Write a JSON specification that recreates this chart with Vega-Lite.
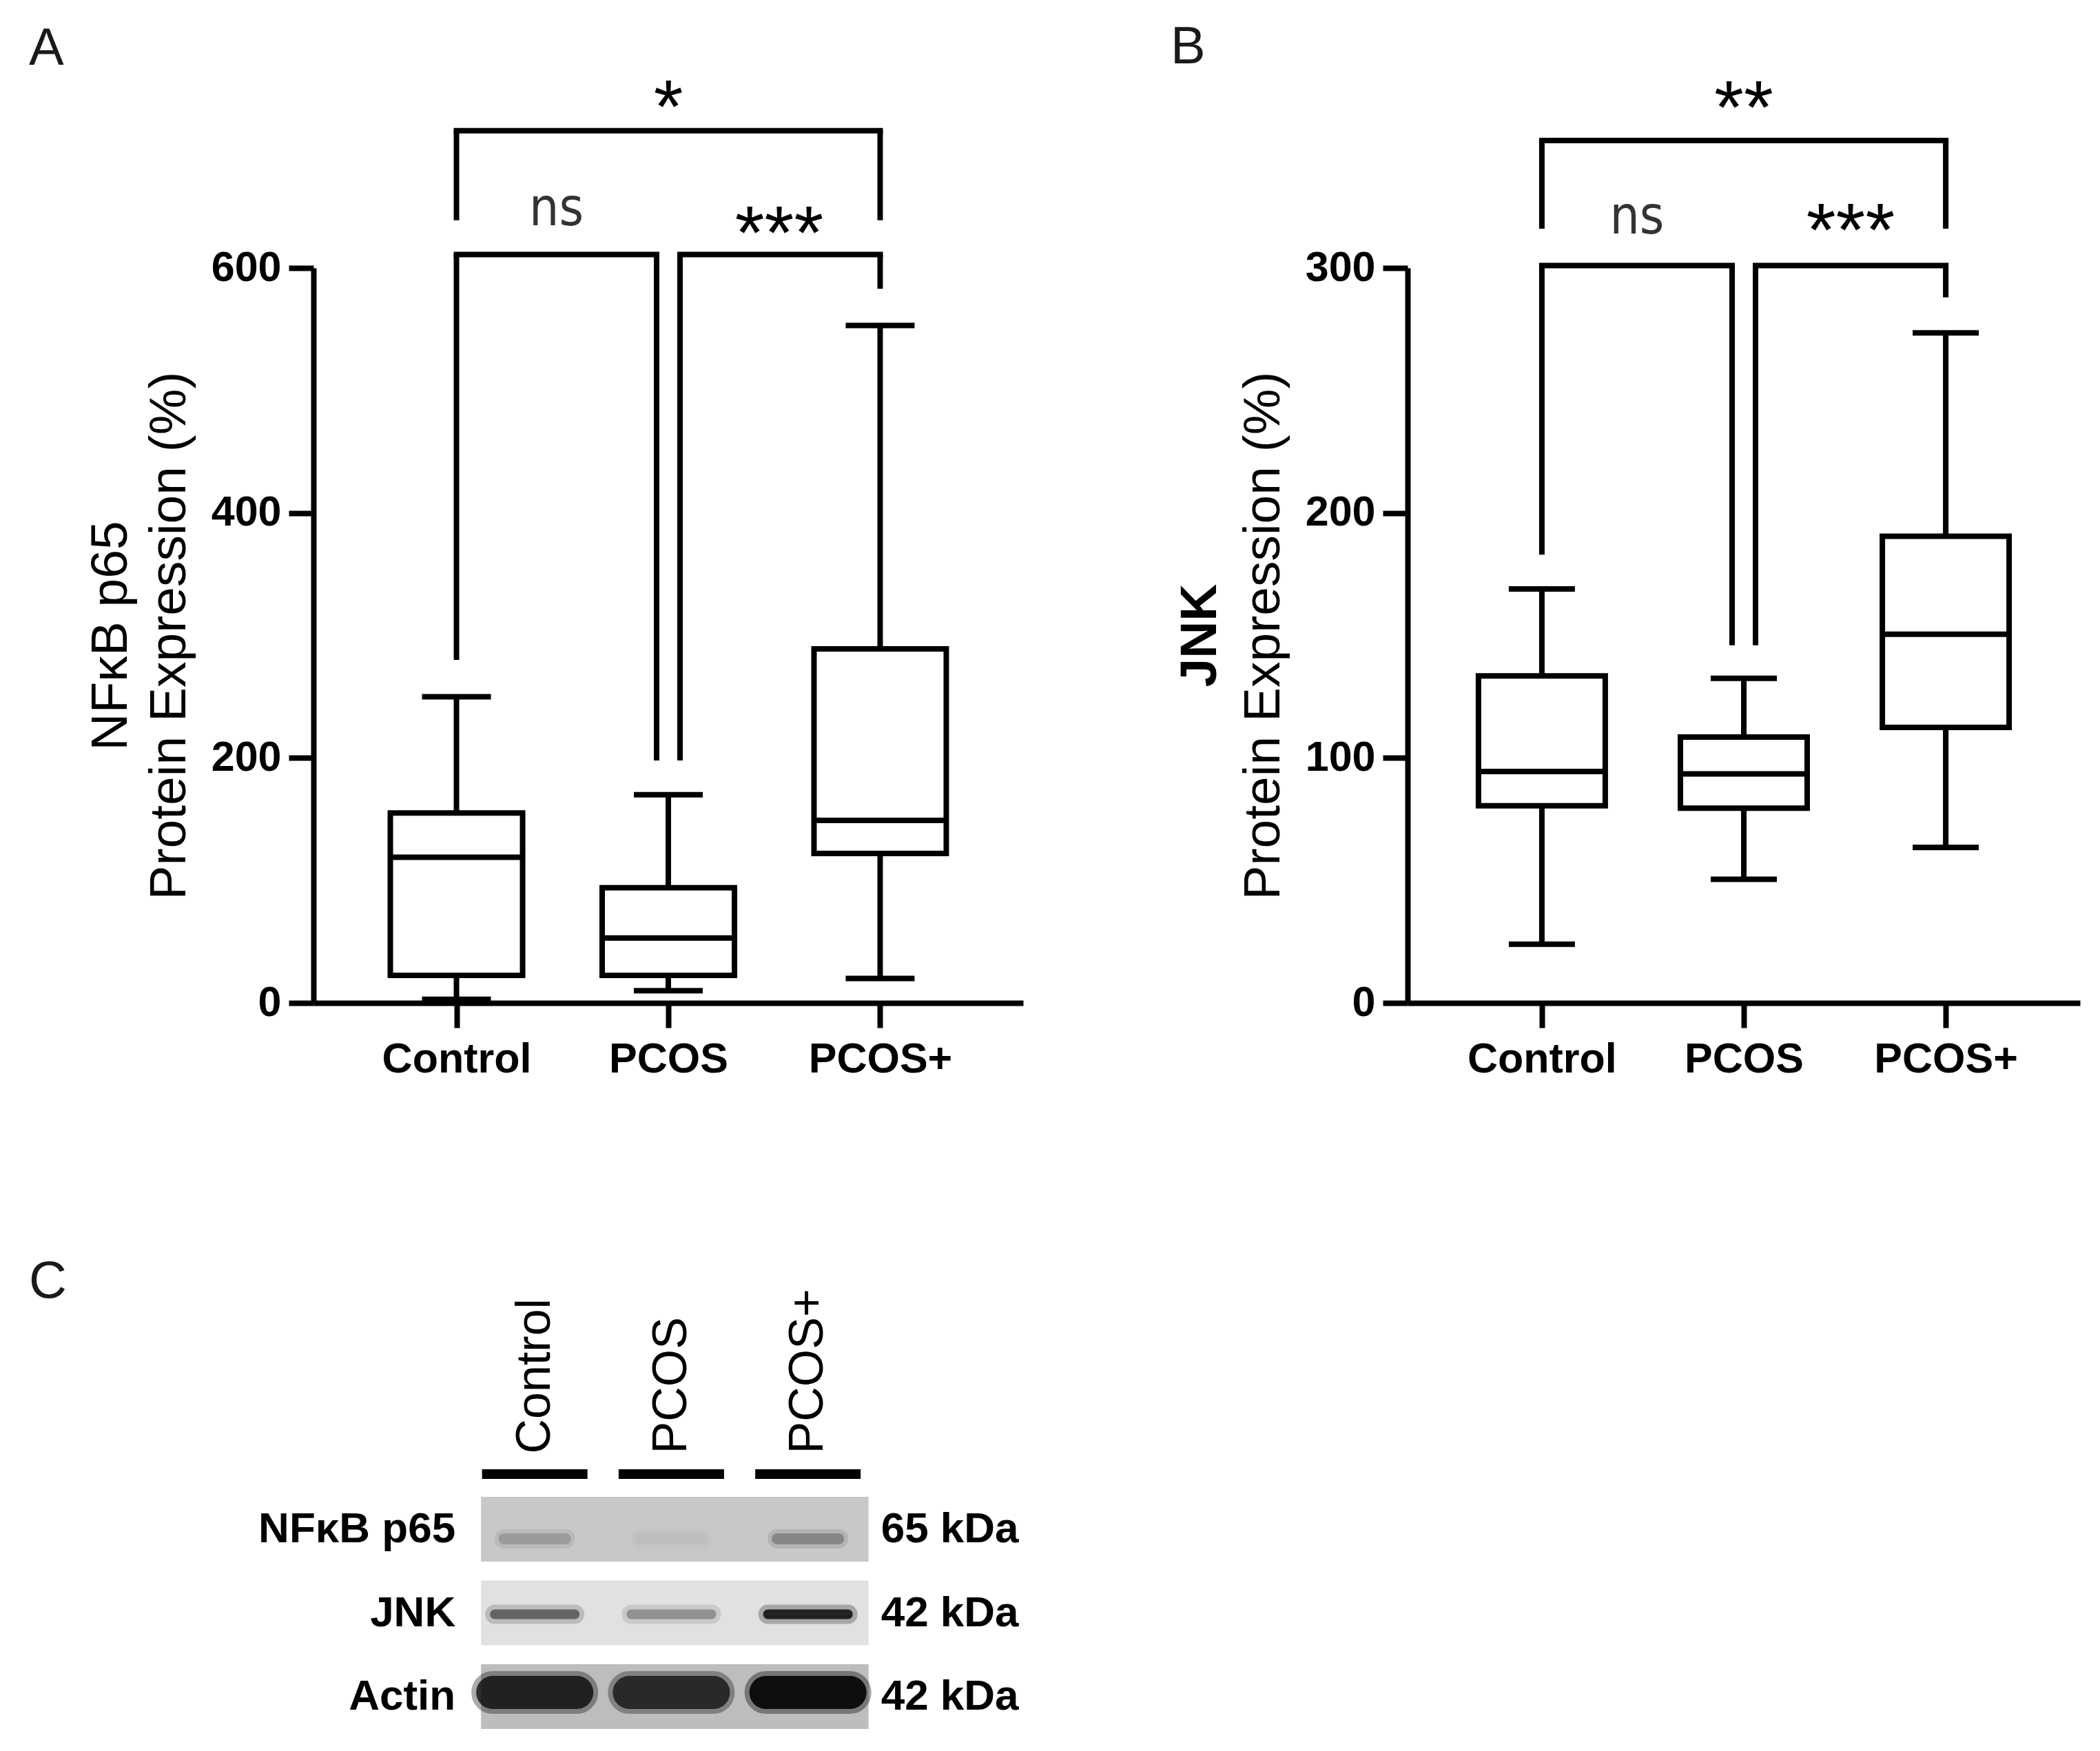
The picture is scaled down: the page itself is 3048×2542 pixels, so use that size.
{
  "$schema": "https://vega.github.io/schema/vega-lite/v6.json",
  "background": "white",
  "padding": {"left": 42, "top": 31, "right": 10, "bottom": 10},
  "config": {
    "view": {"stroke": null},
    "font": "Liberation Sans",
    "axis": {"domainColor": "black", "tickColor": "black", "labelColor": "black", "titleColor": "black", "labelFont": "Liberation Sans", "titleFont": "Liberation Sans", "grid": false, "domainWidth": 8, "tickWidth": 8, "tickSize": 36, "labelFontSize": 61, "labelFontWeight": "bold", "titleFontSize": 75, "titleFontWeight": "normal", "labelLimit": 0},
    "axisX": {"labelAngle": 0, "labelPadding": 16},
    "axisY": {"labelPadding": 11},
    "title": {"font": "Liberation Sans", "fontSize": 76, "fontWeight": "normal", "color": "#1a1a1a", "anchor": "start", "frame": "group", "baseline": "alphabetic"}
  },
  "datasets": {
    "boxA": [
      {"group": "Control", "min": 3, "q1": 22.5, "median": 119, "q3": 155, "max": 250},
      {"group": "PCOS", "min": 10, "q1": 22.5, "median": 53, "q3": 94, "max": 170},
      {"group": "PCOS+", "min": 20, "q1": 122, "median": 149, "q3": 289, "max": 553}
    ],
    "boxB": [
      {"group": "Control", "min": 24, "q1": 80.5, "median": 94.5, "q3": 133.5, "max": 169},
      {"group": "PCOS", "min": 50.5, "q1": 79.5, "median": 93.5, "q3": 108.5, "max": 132.5},
      {"group": "PCOS+", "min": 63.5, "q1": 112.5, "median": 150.5, "q3": 190.5, "max": 273.5}
    ],
    "brA": [
      {"from": "Control", "to": "PCOS", "top": 611, "legFrom": 280, "legTo": 198, "label": "ns", "labelY": 635},
      {"from": "PCOS", "to": "PCOS+", "top": 611, "legFrom": 198, "legTo": 583, "label": "***", "labelY": 608},
      {"from": "Control", "to": "PCOS+", "top": 712, "legFrom": 639, "legTo": 639, "label": "*", "labelY": 711}
    ],
    "brB": [
      {"from": "Control", "to": "PCOS", "top": 301, "legFrom": 183, "legTo": 146, "label": "ns", "labelY": 314},
      {"from": "PCOS", "to": "PCOS+", "top": 301, "legFrom": 146, "legTo": 288, "label": "***", "labelY": 305},
      {"from": "Control", "to": "PCOS+", "top": 352, "legFrom": 316, "legTo": 316, "label": "**", "labelY": 355}
    ],
    "titleB": [{"label": "JNK"}],
    "lanes": [{"lane": "Control"}, {"lane": "PCOS"}, {"lane": "PCOS+"}],
    "proteins": [{"protein": "NFκB p65", "kda": "65 kDa"}, {"protein": "JNK", "kda": "42 kDa"}, {"protein": "Actin", "kda": "42 kDa"}],
    "bands": [
      {"protein": "NFκB p65", "lane": "Control", "intensity": 0.22},
      {"protein": "NFκB p65", "lane": "PCOS", "intensity": 0.05},
      {"protein": "NFκB p65", "lane": "PCOS+", "intensity": 0.32},
      {"protein": "JNK", "lane": "Control", "intensity": 0.55},
      {"protein": "JNK", "lane": "PCOS", "intensity": 0.35},
      {"protein": "JNK", "lane": "PCOS+", "intensity": 0.85},
      {"protein": "Actin", "lane": "Control", "intensity": 0.82},
      {"protein": "Actin", "lane": "PCOS", "intensity": 0.78},
      {"protein": "Actin", "lane": "PCOS+", "intensity": 0.92}
    ]
  },
  "spacing": 254,
  "vconcat": [
    {
      "spacing": 214,
      "hconcat": [
        {
          "width": 1030,
          "height": 1067,
          "title": {"text": "A", "dx": -413, "offset": -6},
          "layer": [
            {
              "data": {"name": "boxA"},
              "mark": {"type": "rule", "color": "black", "strokeWidth": 8},
              "encoding": {
                "x": {"field": "group", "type": "nominal", "title": null, "scale": {"type": "point", "domain": ["Control", "PCOS", "PCOS+"], "padding": 0.675}},
                "y": {"field": "min", "type": "quantitative", "scale": {"domain": [0, 600], "nice": false, "zero": false},
                      "axis": {"values": [0, 200, 400, 600], "title": ["NFκB p65", "Protein Expression (%)"], "titleLineHeight": 85, "titlePadding": 22}},
                "y2": {"field": "max"}
              }
            },
            {
              "data": {"name": "boxA"},
              "mark": {"type": "bar", "size": 192, "fill": "white", "stroke": "black", "strokeWidth": 8},
              "encoding": {
                "x": {"field": "group", "type": "nominal", "title": null, "scale": {"type": "point", "domain": ["Control", "PCOS", "PCOS+"], "padding": 0.675}},
                "y": {"field": "q1", "type": "quantitative", "scale": {"domain": [0, 600], "nice": false, "zero": false}},
                "y2": {"field": "q3"}
              }
            },
            {
              "data": {"name": "boxA"},
              "mark": {"type": "tick", "orient": "horizontal", "size": 192, "thickness": 8, "color": "black", "opacity": 1},
              "encoding": {
                "x": {"field": "group", "type": "nominal", "title": null, "scale": {"type": "point", "domain": ["Control", "PCOS", "PCOS+"], "padding": 0.675}},
                "y": {"field": "median", "type": "quantitative", "scale": {"domain": [0, 600], "nice": false, "zero": false}}
              }
            },
            {
              "data": {"name": "boxA"},
              "mark": {"type": "tick", "orient": "horizontal", "size": 100, "thickness": 8, "color": "black", "opacity": 1},
              "encoding": {
                "x": {"field": "group", "type": "nominal", "title": null, "scale": {"type": "point", "domain": ["Control", "PCOS", "PCOS+"], "padding": 0.675}},
                "y": {"field": "min", "type": "quantitative", "scale": {"domain": [0, 600], "nice": false, "zero": false}}
              }
            },
            {
              "data": {"name": "boxA"},
              "mark": {"type": "tick", "orient": "horizontal", "size": 100, "thickness": 8, "color": "black", "opacity": 1},
              "encoding": {
                "x": {"field": "group", "type": "nominal", "title": null, "scale": {"type": "point", "domain": ["Control", "PCOS", "PCOS+"], "padding": 0.675}},
                "y": {"field": "max", "type": "quantitative", "scale": {"domain": [0, 600], "nice": false, "zero": false}}
              }
            },
            {
              "data": {"name": "brA"},
              "transform": [{"filter": "datum.to === 'PCOS'"}],
              "mark": {"type": "rule", "color": "black", "strokeWidth": 8, "strokeCap": "square", "x2Offset": -17},
              "encoding": {
                "x": {"field": "from", "type": "nominal", "title": null, "scale": {"type": "point", "domain": ["Control", "PCOS", "PCOS+"], "padding": 0.675}},
                "x2": {"field": "to"},
                "y": {"field": "top", "type": "quantitative", "scale": {"domain": [0, 600], "nice": false, "zero": false}}
              }
            },
            {
              "data": {"name": "brA"},
              "transform": [{"filter": "datum.from === 'PCOS'"}],
              "mark": {"type": "rule", "color": "black", "strokeWidth": 8, "strokeCap": "square", "xOffset": 17},
              "encoding": {
                "x": {"field": "from", "type": "nominal", "title": null, "scale": {"type": "point", "domain": ["Control", "PCOS", "PCOS+"], "padding": 0.675}},
                "x2": {"field": "to"},
                "y": {"field": "top", "type": "quantitative", "scale": {"domain": [0, 600], "nice": false, "zero": false}}
              }
            },
            {
              "data": {"name": "brA"},
              "transform": [{"filter": "datum.from === 'Control' && datum.to === 'PCOS+'"}],
              "mark": {"type": "rule", "color": "black", "strokeWidth": 8, "strokeCap": "square"},
              "encoding": {
                "x": {"field": "from", "type": "nominal", "title": null, "scale": {"type": "point", "domain": ["Control", "PCOS", "PCOS+"], "padding": 0.675}},
                "x2": {"field": "to"},
                "y": {"field": "top", "type": "quantitative", "scale": {"domain": [0, 600], "nice": false, "zero": false}}
              }
            },
            {
              "data": {"name": "brA"},
              "transform": [{"filter": "datum.from !== 'PCOS'"}],
              "mark": {"type": "rule", "color": "black", "strokeWidth": 8},
              "encoding": {
                "x": {"field": "from", "type": "nominal", "title": null, "scale": {"type": "point", "domain": ["Control", "PCOS", "PCOS+"], "padding": 0.675}},
                "y": {"field": "legFrom", "type": "quantitative", "scale": {"domain": [0, 600], "nice": false, "zero": false}},
                "y2": {"field": "top"}
              }
            },
            {
              "data": {"name": "brA"},
              "transform": [{"filter": "datum.from === 'PCOS'"}],
              "mark": {"type": "rule", "color": "black", "strokeWidth": 8, "xOffset": 17},
              "encoding": {
                "x": {"field": "from", "type": "nominal", "title": null, "scale": {"type": "point", "domain": ["Control", "PCOS", "PCOS+"], "padding": 0.675}},
                "y": {"field": "legFrom", "type": "quantitative", "scale": {"domain": [0, 600], "nice": false, "zero": false}},
                "y2": {"field": "top"}
              }
            },
            {
              "data": {"name": "brA"},
              "transform": [{"filter": "datum.to !== 'PCOS'"}],
              "mark": {"type": "rule", "color": "black", "strokeWidth": 8},
              "encoding": {
                "x": {"field": "to", "type": "nominal", "title": null, "scale": {"type": "point", "domain": ["Control", "PCOS", "PCOS+"], "padding": 0.675}},
                "y": {"field": "legTo", "type": "quantitative", "scale": {"domain": [0, 600], "nice": false, "zero": false}},
                "y2": {"field": "top"}
              }
            },
            {
              "data": {"name": "brA"},
              "transform": [{"filter": "datum.to === 'PCOS'"}],
              "mark": {"type": "rule", "color": "black", "strokeWidth": 8, "xOffset": -17},
              "encoding": {
                "x": {"field": "to", "type": "nominal", "title": null, "scale": {"type": "point", "domain": ["Control", "PCOS", "PCOS+"], "padding": 0.675}},
                "y": {"field": "legTo", "type": "quantitative", "scale": {"domain": [0, 600], "nice": false, "zero": false}},
                "y2": {"field": "top"}
              }
            },
            {
              "data": {"name": "brA"},
              "transform": [{"filter": "datum.label === 'ns'"}],
              "mark": {"type": "text", "xOffset": 145, "fontSize": 76, "font": "DejaVu Sans Condensed, Liberation Sans", "color": "#333333", "baseline": "alphabetic", "align": "center"},
              "encoding": {
                "x": {"field": "from", "type": "nominal", "title": null, "scale": {"type": "point", "domain": ["Control", "PCOS", "PCOS+"], "padding": 0.675}},
                "y": {"field": "labelY", "type": "quantitative", "scale": {"domain": [0, 600], "nice": false, "zero": false}},
                "text": {"field": "label"}
              }
            },
            {
              "data": {"name": "brA"},
              "transform": [{"filter": "datum.from === 'PCOS'"}],
              "mark": {"type": "text", "xOffset": 161, "fontSize": 110, "color": "black", "baseline": "alphabetic", "align": "center"},
              "encoding": {
                "x": {"field": "from", "type": "nominal", "title": null, "scale": {"type": "point", "domain": ["Control", "PCOS", "PCOS+"], "padding": 0.675}},
                "y": {"field": "labelY", "type": "quantitative", "scale": {"domain": [0, 600], "nice": false, "zero": false}},
                "text": {"field": "label"}
              }
            },
            {
              "data": {"name": "brA"},
              "transform": [{"filter": "datum.from === 'Control' && datum.to === 'PCOS+'"}],
              "mark": {"type": "text", "xOffset": 307.5, "fontSize": 110, "color": "black", "baseline": "alphabetic", "align": "center"},
              "encoding": {
                "x": {"field": "from", "type": "nominal", "title": null, "scale": {"type": "point", "domain": ["Control", "PCOS", "PCOS+"], "padding": 0.675}},
                "y": {"field": "labelY", "type": "quantitative", "scale": {"domain": [0, 600], "nice": false, "zero": false}},
                "text": {"field": "label"}
              }
            }
          ]
        },
        {
          "width": 976,
          "height": 1067,
          "title": {"text": "B", "dx": -344, "offset": -3},
          "layer": [
            {
              "data": {"name": "boxB"},
              "mark": {"type": "rule", "color": "black", "strokeWidth": 8},
              "encoding": {
                "x": {"field": "group", "type": "nominal", "title": null, "scale": {"type": "point", "domain": ["Control", "PCOS", "PCOS+"], "padding": 0.665}},
                "y": {"field": "min", "type": "quantitative", "scale": {"domain": [0, 300], "nice": false, "zero": false},
                      "axis": {"values": [0, 100, 200, 300], "title": "Protein Expression (%)", "titlePadding": 22}},
                "y2": {"field": "max"}
              }
            },
            {
              "data": {"name": "boxB"},
              "mark": {"type": "bar", "size": 184, "fill": "white", "stroke": "black", "strokeWidth": 8},
              "encoding": {
                "x": {"field": "group", "type": "nominal", "title": null, "scale": {"type": "point", "domain": ["Control", "PCOS", "PCOS+"], "padding": 0.665}},
                "y": {"field": "q1", "type": "quantitative", "scale": {"domain": [0, 300], "nice": false, "zero": false}},
                "y2": {"field": "q3"}
              }
            },
            {
              "data": {"name": "boxB"},
              "mark": {"type": "tick", "orient": "horizontal", "size": 184, "thickness": 8, "color": "black", "opacity": 1},
              "encoding": {
                "x": {"field": "group", "type": "nominal", "title": null, "scale": {"type": "point", "domain": ["Control", "PCOS", "PCOS+"], "padding": 0.665}},
                "y": {"field": "median", "type": "quantitative", "scale": {"domain": [0, 300], "nice": false, "zero": false}}
              }
            },
            {
              "data": {"name": "boxB"},
              "mark": {"type": "tick", "orient": "horizontal", "size": 96, "thickness": 8, "color": "black", "opacity": 1},
              "encoding": {
                "x": {"field": "group", "type": "nominal", "title": null, "scale": {"type": "point", "domain": ["Control", "PCOS", "PCOS+"], "padding": 0.665}},
                "y": {"field": "min", "type": "quantitative", "scale": {"domain": [0, 300], "nice": false, "zero": false}}
              }
            },
            {
              "data": {"name": "boxB"},
              "mark": {"type": "tick", "orient": "horizontal", "size": 96, "thickness": 8, "color": "black", "opacity": 1},
              "encoding": {
                "x": {"field": "group", "type": "nominal", "title": null, "scale": {"type": "point", "domain": ["Control", "PCOS", "PCOS+"], "padding": 0.665}},
                "y": {"field": "max", "type": "quantitative", "scale": {"domain": [0, 300], "nice": false, "zero": false}}
              }
            },
            {
              "data": {"name": "titleB"},
              "mark": {"type": "text", "angle": 270, "fontSize": 75, "fontWeight": "bold", "color": "black", "xOffset": -496, "align": "center", "baseline": "middle"},
              "encoding": {
                "x": {"datum": "Control", "type": "nominal", "title": null, "scale": {"type": "point", "domain": ["Control", "PCOS", "PCOS+"], "padding": 0.665}},
                "y": {"datum": 150, "type": "quantitative", "scale": {"domain": [0, 300], "nice": false, "zero": false}},
                "text": {"field": "label"}
              }
            },
            {
              "data": {"name": "brB"},
              "transform": [{"filter": "datum.to === 'PCOS'"}],
              "mark": {"type": "rule", "color": "black", "strokeWidth": 8, "strokeCap": "square", "x2Offset": -17},
              "encoding": {
                "x": {"field": "from", "type": "nominal", "title": null, "scale": {"type": "point", "domain": ["Control", "PCOS", "PCOS+"], "padding": 0.665}},
                "x2": {"field": "to"},
                "y": {"field": "top", "type": "quantitative", "scale": {"domain": [0, 300], "nice": false, "zero": false}}
              }
            },
            {
              "data": {"name": "brB"},
              "transform": [{"filter": "datum.from === 'PCOS'"}],
              "mark": {"type": "rule", "color": "black", "strokeWidth": 8, "strokeCap": "square", "xOffset": 17},
              "encoding": {
                "x": {"field": "from", "type": "nominal", "title": null, "scale": {"type": "point", "domain": ["Control", "PCOS", "PCOS+"], "padding": 0.665}},
                "x2": {"field": "to"},
                "y": {"field": "top", "type": "quantitative", "scale": {"domain": [0, 300], "nice": false, "zero": false}}
              }
            },
            {
              "data": {"name": "brB"},
              "transform": [{"filter": "datum.from === 'Control' && datum.to === 'PCOS+'"}],
              "mark": {"type": "rule", "color": "black", "strokeWidth": 8, "strokeCap": "square"},
              "encoding": {
                "x": {"field": "from", "type": "nominal", "title": null, "scale": {"type": "point", "domain": ["Control", "PCOS", "PCOS+"], "padding": 0.665}},
                "x2": {"field": "to"},
                "y": {"field": "top", "type": "quantitative", "scale": {"domain": [0, 300], "nice": false, "zero": false}}
              }
            },
            {
              "data": {"name": "brB"},
              "transform": [{"filter": "datum.from !== 'PCOS'"}],
              "mark": {"type": "rule", "color": "black", "strokeWidth": 8},
              "encoding": {
                "x": {"field": "from", "type": "nominal", "title": null, "scale": {"type": "point", "domain": ["Control", "PCOS", "PCOS+"], "padding": 0.665}},
                "y": {"field": "legFrom", "type": "quantitative", "scale": {"domain": [0, 300], "nice": false, "zero": false}},
                "y2": {"field": "top"}
              }
            },
            {
              "data": {"name": "brB"},
              "transform": [{"filter": "datum.from === 'PCOS'"}],
              "mark": {"type": "rule", "color": "black", "strokeWidth": 8, "xOffset": 17},
              "encoding": {
                "x": {"field": "from", "type": "nominal", "title": null, "scale": {"type": "point", "domain": ["Control", "PCOS", "PCOS+"], "padding": 0.665}},
                "y": {"field": "legFrom", "type": "quantitative", "scale": {"domain": [0, 300], "nice": false, "zero": false}},
                "y2": {"field": "top"}
              }
            },
            {
              "data": {"name": "brB"},
              "transform": [{"filter": "datum.to !== 'PCOS'"}],
              "mark": {"type": "rule", "color": "black", "strokeWidth": 8},
              "encoding": {
                "x": {"field": "to", "type": "nominal", "title": null, "scale": {"type": "point", "domain": ["Control", "PCOS", "PCOS+"], "padding": 0.665}},
                "y": {"field": "legTo", "type": "quantitative", "scale": {"domain": [0, 300], "nice": false, "zero": false}},
                "y2": {"field": "top"}
              }
            },
            {
              "data": {"name": "brB"},
              "transform": [{"filter": "datum.to === 'PCOS'"}],
              "mark": {"type": "rule", "color": "black", "strokeWidth": 8, "xOffset": -17},
              "encoding": {
                "x": {"field": "to", "type": "nominal", "title": null, "scale": {"type": "point", "domain": ["Control", "PCOS", "PCOS+"], "padding": 0.665}},
                "y": {"field": "legTo", "type": "quantitative", "scale": {"domain": [0, 300], "nice": false, "zero": false}},
                "y2": {"field": "top"}
              }
            },
            {
              "data": {"name": "brB"},
              "transform": [{"filter": "datum.label === 'ns'"}],
              "mark": {"type": "text", "xOffset": 138, "fontSize": 76, "font": "DejaVu Sans Condensed, Liberation Sans", "color": "#333333", "baseline": "alphabetic", "align": "center"},
              "encoding": {
                "x": {"field": "from", "type": "nominal", "title": null, "scale": {"type": "point", "domain": ["Control", "PCOS", "PCOS+"], "padding": 0.665}},
                "y": {"field": "labelY", "type": "quantitative", "scale": {"domain": [0, 300], "nice": false, "zero": false}},
                "text": {"field": "label"}
              }
            },
            {
              "data": {"name": "brB"},
              "transform": [{"filter": "datum.from === 'PCOS'"}],
              "mark": {"type": "text", "xOffset": 155, "fontSize": 110, "color": "black", "baseline": "alphabetic", "align": "center"},
              "encoding": {
                "x": {"field": "from", "type": "nominal", "title": null, "scale": {"type": "point", "domain": ["Control", "PCOS", "PCOS+"], "padding": 0.665}},
                "y": {"field": "labelY", "type": "quantitative", "scale": {"domain": [0, 300], "nice": false, "zero": false}},
                "text": {"field": "label"}
              }
            },
            {
              "data": {"name": "brB"},
              "transform": [{"filter": "datum.from === 'Control' && datum.to === 'PCOS+'"}],
              "mark": {"type": "text", "xOffset": 293, "fontSize": 110, "color": "black", "baseline": "alphabetic", "align": "center"},
              "encoding": {
                "x": {"field": "from", "type": "nominal", "title": null, "scale": {"type": "point", "domain": ["Control", "PCOS", "PCOS+"], "padding": 0.665}},
                "y": {"field": "labelY", "type": "quantitative", "scale": {"domain": [0, 300], "nice": false, "zero": false}},
                "text": {"field": "label"}
              }
            }
          ]
        }
      ]
    },
    {
      "width": 793,
      "height": 337,
      "title": {"text": "C", "dx": -413, "offset": -29},
      "layer": [
        {
          "data": {"name": "proteins"},
          "mark": {"type": "rect", "xOffset": -78, "x2Offset": 88},
          "encoding": {
            "x": {"datum": "Control", "type": "nominal", "title": null, "scale": {"type": "point", "domain": ["Control", "PCOS", "PCOS+"], "padding": 1.076, "align": 0.81}},
            "x2": {"datum": "PCOS+"},
            "y": {"field": "protein", "type": "nominal", "title": null, "scale": {"domain": ["NFκB p65", "JNK", "Actin"], "paddingInner": 0.226, "paddingOuter": 0}, "axis": null},
            "color": {"field": "protein", "type": "nominal", "scale": {"domain": ["NFκB p65", "JNK", "Actin"], "range": ["#c8c8c8", "#e1e1e1", "#bdbdbd"]}, "legend": null}
          }
        },
        {
          "data": {"name": "lanes"},
          "mark": {"type": "rect", "width": 153, "height": 14, "yOffset": -80, "color": "black"},
          "encoding": {
            "x": {"field": "lane", "type": "nominal", "title": null,
                  "scale": {"type": "point", "domain": ["Control", "PCOS", "PCOS+"], "padding": 1.076, "align": 0.81},
                  "axis": {"orient": "top", "labelAngle": -90, "labelAlign": "left", "labelBaseline": "middle", "labelFontSize": 70, "labelFontWeight": "normal", "domain": false, "ticks": false, "tickSize": 0, "labelPadding": 63}},
            "y": {"datum": "NFκB p65", "type": "nominal", "title": null, "scale": {"domain": ["NFκB p65", "JNK", "Actin"], "paddingInner": 0.226, "paddingOuter": 0}, "axis": null}
          }
        },
        {
          "data": {"name": "bands"},
          "transform": [{"filter": "datum.protein === 'NFκB p65'"}],
          "mark": {"type": "rect", "width": 105, "height": 16, "yOffset": 14, "color": "black", "stroke": "black", "strokeWidth": 12, "strokeOpacity": 0.3, "cornerRadius": 8},
          "encoding": {
            "x": {"field": "lane", "type": "nominal", "title": null, "scale": {"type": "point", "domain": ["Control", "PCOS", "PCOS+"], "padding": 1.076, "align": 0.81}},
            "y": {"field": "protein", "type": "nominal", "title": null, "scale": {"domain": ["NFκB p65", "JNK", "Actin"], "paddingInner": 0.226, "paddingOuter": 0}, "axis": null},
            "opacity": {"field": "intensity", "type": "quantitative", "scale": {"domain": [0, 1], "range": [0, 1]}, "legend": null}
          }
        },
        {
          "data": {"name": "bands"},
          "transform": [{"filter": "datum.protein === 'JNK'"}],
          "mark": {"type": "rect", "width": 130, "height": 14, "yOffset": 2, "color": "black", "stroke": "black", "strokeWidth": 14, "strokeOpacity": 0.3, "cornerRadius": 8},
          "encoding": {
            "x": {"field": "lane", "type": "nominal", "title": null, "scale": {"type": "point", "domain": ["Control", "PCOS", "PCOS+"], "padding": 1.076, "align": 0.81}},
            "y": {"field": "protein", "type": "nominal", "title": null, "scale": {"domain": ["NFκB p65", "JNK", "Actin"], "paddingInner": 0.226, "paddingOuter": 0}, "axis": null},
            "opacity": {"field": "intensity", "type": "quantitative", "scale": {"domain": [0, 1], "range": [0, 1]}, "legend": null}
          }
        },
        {
          "data": {"name": "bands"},
          "transform": [{"filter": "datum.protein === 'Actin'"}],
          "mark": {"type": "rect", "width": 170, "height": 48, "yOffset": -6, "color": "black", "stroke": "black", "strokeWidth": 14, "strokeOpacity": 0.4, "cornerRadius": 24},
          "encoding": {
            "x": {"field": "lane", "type": "nominal", "title": null, "scale": {"type": "point", "domain": ["Control", "PCOS", "PCOS+"], "padding": 1.076, "align": 0.81}},
            "y": {"field": "protein", "type": "nominal", "title": null, "scale": {"domain": ["NFκB p65", "JNK", "Actin"], "paddingInner": 0.226, "paddingOuter": 0}, "axis": null},
            "opacity": {"field": "intensity", "type": "quantitative", "scale": {"domain": [0, 1], "range": [0, 1]}, "legend": null}
          }
        },
        {
          "data": {"name": "proteins"},
          "mark": {"type": "text", "xOffset": -115, "align": "right", "baseline": "middle", "fontSize": 62, "fontWeight": "bold", "font": "Liberation Sans", "color": "black"},
          "encoding": {
            "x": {"datum": "Control", "type": "nominal", "title": null, "scale": {"type": "point", "domain": ["Control", "PCOS", "PCOS+"], "padding": 1.076, "align": 0.81}},
            "y": {"field": "protein", "type": "nominal", "title": null, "scale": {"domain": ["NFκB p65", "JNK", "Actin"], "paddingInner": 0.226, "paddingOuter": 0}, "axis": null},
            "text": {"field": "protein"}
          }
        },
        {
          "data": {"name": "proteins"},
          "mark": {"type": "text", "xOffset": 106, "align": "left", "baseline": "middle", "fontSize": 62, "fontWeight": "bold", "font": "Liberation Sans", "color": "black"},
          "encoding": {
            "x": {"datum": "PCOS+", "type": "nominal", "title": null, "scale": {"type": "point", "domain": ["Control", "PCOS", "PCOS+"], "padding": 1.076, "align": 0.81}},
            "y": {"field": "protein", "type": "nominal", "title": null, "scale": {"domain": ["NFκB p65", "JNK", "Actin"], "paddingInner": 0.226, "paddingOuter": 0}, "axis": null},
            "text": {"field": "kda"}
          }
        }
      ]
    }
  ]
}
